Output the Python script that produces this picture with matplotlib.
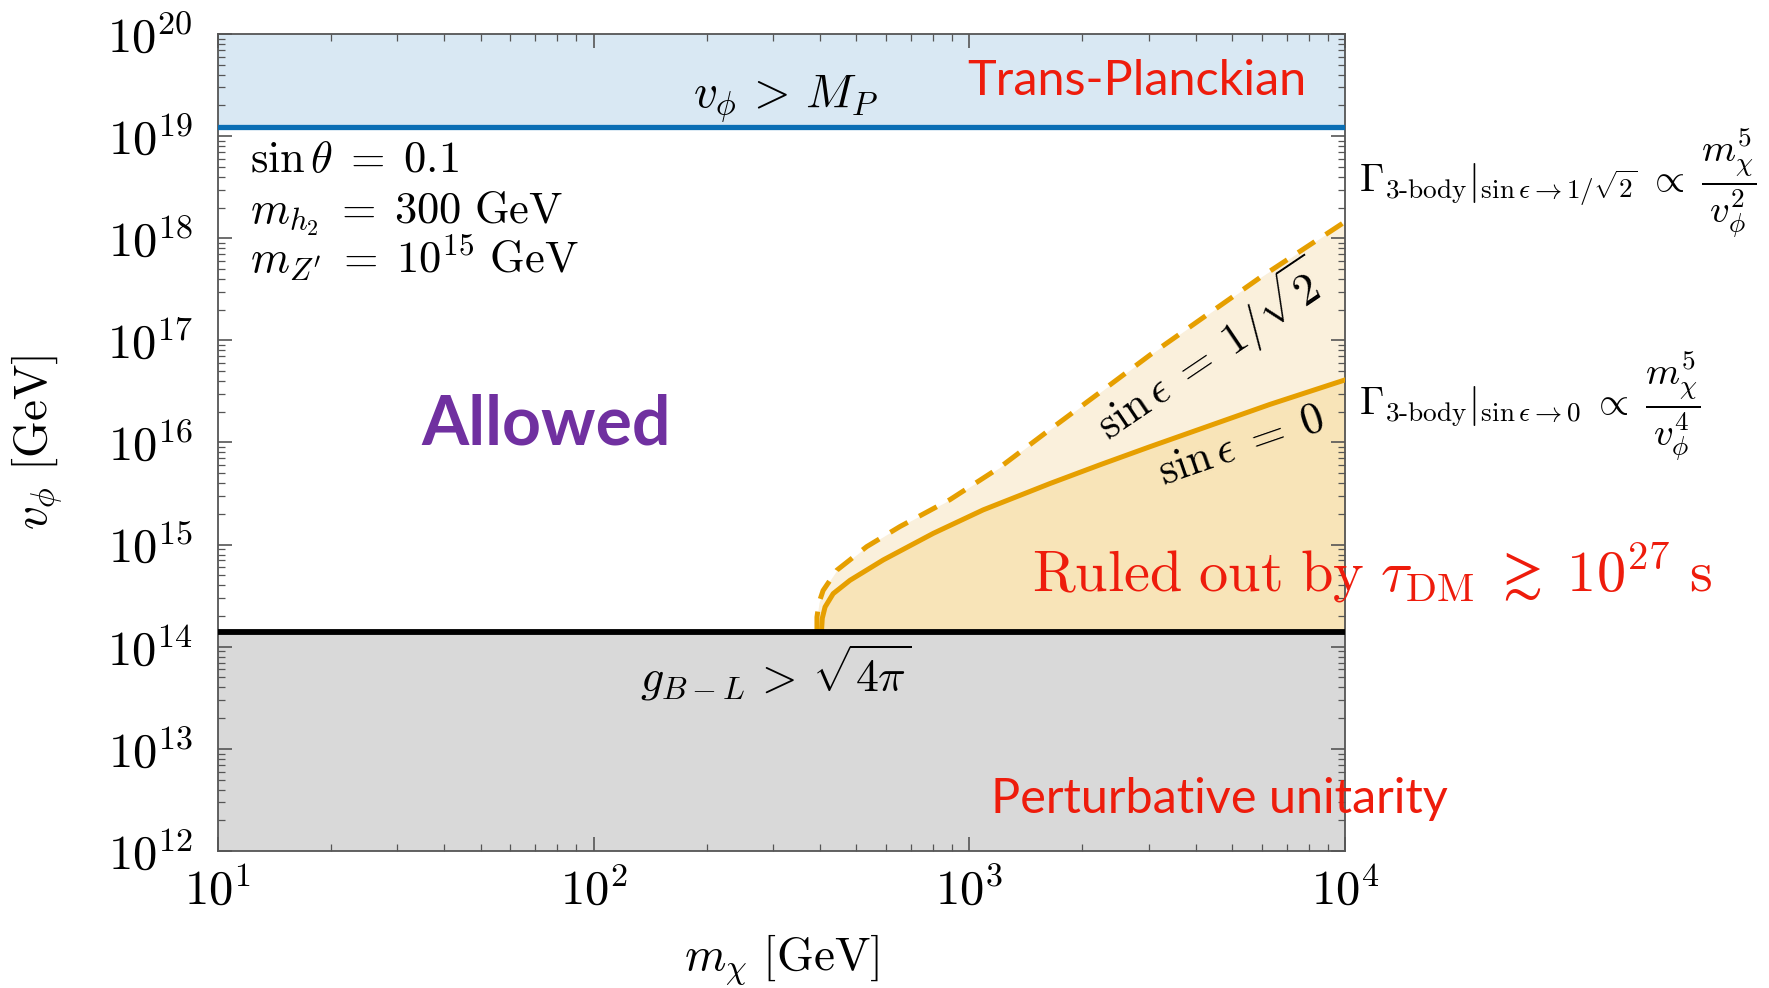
import numpy as np
import matplotlib.pyplot as plt
from matplotlib.ticker import FixedLocator, LogLocator, FuncFormatter

plt.rcParams['mathtext.fontset'] = 'cm'
plt.rcParams['font.family'] = ['DejaVu Serif']

# limits
m_planck = 1.22e19          # v_phi > M_P
v_unitarity = 1.41e14       # g_{B-L} > sqrt(4 pi)

# tau_DM bound, sin(eps) = 0 (solid)
m_solid = [404, 406, 413, 434, 481, 590, 802, 1089, 1641, 2228, 3027, 6310, 10000]
v_solid = [1.41e14, 1.9e14, 2.45e14, 3.31e14, 4.47e14, 7.08e14, 1.29e15, 2.19e15, 3.97e15,
           6.05e15, 9.1e15, 2.36e16, 4.1e16]

# tau_DM bound, sin(eps) = 1/sqrt(2) (dashed)
m_dash = [393, 393, 398, 408, 444, 533, 653, 887, 1205, 1603, 2228, 3027, 5930, 10000]
v_dash = [1.41e14, 1.95e14, 2.7e14, 3.55e14, 5.62e14, 9.55e14, 1.5e15, 2.75e15, 5.7e15,
          1.26e16, 3.1e16, 7.2e16, 4.1e17, 1.45e18]

xmin, xmax = 10, 1e4
ymin, ymax = 1e12, 1e20

orange = '#E69F00'
red = '#EE1C0C'

fig = plt.figure(figsize=(17.69, 9.88), dpi=100)
ax = fig.add_axes([218/1769, 1-851/988, 1127/1769, 817/988])
ax.set_xscale('log')
ax.set_yscale('log')
ax.set_xlim(xmin, xmax)
ax.set_ylim(ymin, ymax)

# excluded bands
ax.axhspan(m_planck, ymax, color='#D9E8F3', lw=0, zorder=0)
ax.axhspan(ymin, v_unitarity, color='#D9D9D9', lw=0, zorder=0)

# tau_DM regions
ax.fill_between(m_dash, v_unitarity, v_dash, color='#FAF0DC', lw=0, zorder=1)
ax.fill_between(m_solid, v_unitarity, v_solid, color='#F8E4B8', lw=0, zorder=1)
ax.plot(m_dash, v_dash, color=orange, lw=3.6, ls=(0, (4, 2.6)), zorder=3)
ax.plot(m_solid, v_solid, color=orange, lw=3.6, zorder=3)

ax.axhline(m_planck, color='#0A6EB4', lw=3.8, zorder=4)
ax.axhline(v_unitarity, color='black', lw=4.2, zorder=4)

# ticks
ax.xaxis.set_major_locator(FixedLocator([1e1, 1e2, 1e3, 1e4]))
ax.yaxis.set_major_locator(FixedLocator([10.0**k for k in range(12, 21)]))
ax.xaxis.set_minor_locator(LogLocator(base=10, subs=np.arange(2, 10), numticks=20))
ax.yaxis.set_minor_locator(LogLocator(base=10, subs=np.arange(2, 10), numticks=20))
fmt = FuncFormatter(lambda v, p: r'$10^{%d}$' % round(np.log10(v)))
ax.xaxis.set_major_formatter(fmt)
ax.yaxis.set_major_formatter(fmt)
ax.tick_params(which='both', direction='in', top=True, right=True, colors='#555555',
               labelcolor='black', labelsize=35)
ax.tick_params(which='major', length=10, width=1.2, pad=12)
ax.tick_params(axis='y', which='major', pad=18)
ax.tick_params(which='minor', length=5, width=0.9)
for s in ax.spines.values():
    s.set_color('#555555')
    s.set_linewidth(1.3)

ax.set_xlabel(r'$m_\chi\ [\mathrm{GeV}]$', fontsize=34, labelpad=13)
ax.set_ylabel(r'$v_\phi\ [\mathrm{GeV}]$', fontsize=34, labelpad=30)

# annotations
T = ax.transAxes
ax.text(0.028, 0.831, r'$\sin\theta\;=\;0.1$', transform=T, fontsize=32)
ax.text(0.028, 0.768, r'$m_{h_2}\;=\;300\ \mathrm{GeV}$', transform=T, fontsize=32)
ax.text(0.028, 0.707, r'$m_{Z^\prime}\;=\;10^{15}\ \mathrm{GeV}$', transform=T, fontsize=32)

ax.text(0.504, 0.920, r'$v_\phi\,>\,M_P$', transform=T, fontsize=34, ha='center', va='center')
ax.text(0.815, 0.942, 'Trans-Planckian', transform=T, fontsize=35, color=red,
        family='Lato', ha='center', va='center')
ax.text(0.291, 0.521, 'Allowed', transform=T, fontsize=49, color='#7030A0',
        family='Lato', weight='bold', ha='center', va='center')
ax.text(0.880, 0.612, r'$\sin\epsilon\;=\;1/\sqrt{2}$', transform=T, fontsize=32,
        rotation=34, ha='center', va='center', zorder=5)
ax.text(0.908, 0.497, r'$\sin\epsilon\;=\;0$', transform=T, fontsize=32,
        rotation=19, ha='center', va='center', zorder=5)
ax.text(0.722, 0.318, r'$\mathrm{Ruled\ out\ by}\ \tau_{\mathrm{DM}}\;\gtrsim\;10^{27}\ \mathrm{s}$',
        transform=T, fontsize=42, color=red, zorder=6, clip_on=False)
ax.text(0.495, 0.218, r'$g_{B-L}\,>\,\sqrt{4\pi}$', transform=T, fontsize=33,
        ha='center', va='center')
ax.text(0.889, 0.064, 'Perturbative unitarity', transform=T, fontsize=35, color=red,
        family='Lato', ha='center', va='center', clip_on=False)

ax.text(1.012, 0.818, r'$\left.\Gamma_{\mathrm{3\text{-}body}}\right|_{\sin\epsilon\to 1/\sqrt{2}}\;\propto\;\dfrac{m_\chi^5}{v_\phi^2}$',
        transform=T, fontsize=28, va='center', clip_on=False)
ax.text(1.012, 0.545, r'$\left.\Gamma_{\mathrm{3\text{-}body}}\right|_{\sin\epsilon\to 0}\;\propto\;\dfrac{m_\chi^5}{v_\phi^4}$',
        transform=T, fontsize=28, va='center', clip_on=False)

fig.savefig('out.png', dpi=100)
